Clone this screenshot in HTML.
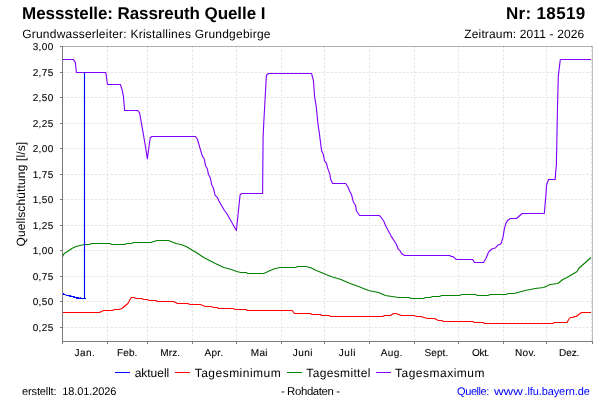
<!DOCTYPE html>
<html lang="de"><head><meta charset="utf-8"><title>Messstelle: Rassreuth Quelle I</title>
<style>html,body{margin:0;padding:0;background:#fff}body{width:600px;height:400px;overflow:hidden}svg{display:block;will-change:transform}text{font-family:"Liberation Sans",sans-serif;fill:#000;text-rendering:geometricPrecision}</style></head><body>
<svg width="600" height="400" viewBox="0 0 600 400">
<rect width="600" height="400" fill="#fff"/>
<g stroke="#bfbfbf" stroke-width="1" shape-rendering="crispEdges" fill="none">
<line x1="62" y1="46.5" x2="593" y2="46.5"/><line x1="592.5" y1="46" x2="592.5" y2="342"/>
</g>
<g stroke="#c0c0c0" stroke-width="0.5" stroke-dasharray="2,2" fill="none">
<line x1="62.6" y1="46.5" x2="592.5" y2="46.5"/>
<line x1="62.6" y1="72.5" x2="592.5" y2="72.5"/>
<line x1="62.6" y1="97.5" x2="592.5" y2="97.5"/>
<line x1="62.6" y1="123.5" x2="592.5" y2="123.5"/>
<line x1="62.6" y1="148.5" x2="592.5" y2="148.5"/>
<line x1="62.6" y1="174.5" x2="592.5" y2="174.5"/>
<line x1="62.6" y1="199.5" x2="592.5" y2="199.5"/>
<line x1="62.6" y1="225.5" x2="592.5" y2="225.5"/>
<line x1="62.6" y1="250.5" x2="592.5" y2="250.5"/>
<line x1="62.6" y1="276.5" x2="592.5" y2="276.5"/>
<line x1="62.6" y1="301.5" x2="592.5" y2="301.5"/>
<line x1="62.6" y1="327.5" x2="592.5" y2="327.5"/>
<line x1="107.5" y1="46.4" x2="107.5" y2="341.5"/>
<line x1="147.5" y1="46.4" x2="147.5" y2="341.5"/>
<line x1="192.5" y1="46.4" x2="192.5" y2="341.5"/>
<line x1="236.5" y1="46.4" x2="236.5" y2="341.5"/>
<line x1="281.5" y1="46.4" x2="281.5" y2="341.5"/>
<line x1="324.5" y1="46.4" x2="324.5" y2="341.5"/>
<line x1="369.5" y1="46.4" x2="369.5" y2="341.5"/>
<line x1="414.5" y1="46.4" x2="414.5" y2="341.5"/>
<line x1="458.5" y1="46.4" x2="458.5" y2="341.5"/>
<line x1="503.5" y1="46.4" x2="503.5" y2="341.5"/>
<line x1="546.5" y1="46.4" x2="546.5" y2="341.5"/>
<line x1="591.5" y1="46.4" x2="591.5" y2="341.5"/>
</g>
<line x1="62.6" y1="46.5" x2="592.5" y2="46.5" stroke="#868686" stroke-width="0.5" stroke-dasharray="2,2" fill="none"/>
<g fill="none" stroke-width="1.12" stroke-linejoin="round" stroke-linecap="butt">
<polyline stroke="#ff0000" points="62.5,312.5 99.4,312.5 103.6,310.5 112.0,310.5 114.5,309.5 118.7,309.5 122.0,308.5 125.4,305.5 127.9,303.5 129.5,300.5 131.2,297.5 133.7,297.5 136.2,298.5 141.3,298.5 143.8,299.5 147.1,299.5 149.6,300.5 155.9,300.5 157.5,301.5 173.5,301.5 177.6,303.5 187.7,303.5 190.2,304.5 200.3,304.5 205.3,306.5 211.1,306.5 213.7,307.5 217.0,307.5 218.7,308.5 232.9,308.5 235.4,309.5 245.9,309.5 247.5,310.5 292.3,310.5 294.4,313.5 310.4,313.5 312.0,314.5 320.1,314.5 321.7,315.5 328.8,315.5 330.8,316.5 382.8,316.5 384.5,315.5 390.4,315.5 393.7,313.5 396.2,313.5 401.2,315.5 413.8,315.5 416.7,316.5 420.9,316.5 427.6,318.5 434.3,318.5 438.5,320.5 441.8,320.5 443.5,321.5 472.8,321.5 474.5,322.5 482.9,322.5 484.5,323.5 552.8,323.5 554.4,322.5 567.0,322.5 568.7,319.5 570.4,317.5 572.9,317.5 574.5,316.5 576.5,316.5 578.7,314.5 581.6,312.5 591.0,312.5"/>
<polyline stroke="#008000" points="62.6,256.5 64.2,253.5 67.6,251.5 71.8,248.5 75.9,246.5 80.1,245.5 84.3,244.5 89.3,244.5 91.9,243.5 109.4,243.5 112.0,244.5 124.5,244.5 127.0,243.5 131.2,243.5 133.7,242.5 150.9,242.5 153.4,241.5 157.6,240.5 168.5,240.5 171.0,241.5 176.0,243.5 181.0,244.5 186.1,246.5 192.8,250.5 197.8,253.5 203.7,257.5 209.5,260.5 215.4,263.5 223.8,267.5 231.3,269.5 236.7,271.5 240.9,272.5 245.9,272.5 247.9,273.5 263.5,273.5 266.0,272.5 270.2,270.5 275.2,268.5 280.3,267.5 295.3,267.5 297.8,266.5 305.4,266.5 310.4,267.5 316.3,270.5 321.3,272.5 330.9,276.5 340.9,279.5 350.2,283.5 358.5,286.5 368.6,290.5 378.6,292.5 385.3,295.5 392.0,296.5 398.7,297.5 408.8,297.5 411.3,298.5 423.4,298.5 425.9,297.5 430.1,297.5 432.6,296.5 439.3,296.5 441.8,295.5 459.4,295.5 461.9,294.5 475.3,294.5 477.8,295.5 487.9,295.5 490.4,294.5 505.9,294.5 508.4,293.5 514.2,293.5 525.1,290.5 535.2,288.5 543.6,287.5 550.3,284.5 557.8,283.5 562.8,279.5 567.0,277.5 577.1,271.5 578.7,268.5 591.0,257.5"/>
<polyline stroke="#8000ff" points="62.5,59.5 73.4,59.5 75.3,62.4 76.4,72.5 105.8,72.5 107.5,84.5 120.4,84.5 122.3,90.4 123.5,97.1 124.6,110.5 137.8,110.5 139.6,112.8 144.6,141.3 147.4,158.8 150.2,137.7 151.9,136.5 195.6,136.5 197.5,139.5 202.4,156.3 204.4,159.3 205.5,165.6 207.4,169.0 208.5,174.6 210.4,178.0 211.5,184.1 212.0,185.3 213.5,188.3 215.0,195.1 217.3,197.3 218.8,200.7 224.0,209.7 226.9,213.8 236.4,230.5 240.1,194.7 241.8,193.5 262.6,193.5 263.1,137.0 263.8,122.2 266.4,75.2 268.5,73.5 311.6,73.5 313.4,80.6 314.7,97.5 316.2,106.2 318.1,125.1 319.2,132.1 321.5,150.1 321.7,151.1 323.4,154.5 324.5,160.8 326.5,163.1 327.5,167.6 329.8,174.1 330.7,179.5 332.6,183.5 345.7,183.5 348.1,187.2 349.6,191.1 351.6,194.8 353.4,202.2 355.5,205.2 356.4,210.8 359.6,215.5 379.1,215.5 380.3,216.2 384.1,221.8 385.5,225.6 391.1,236.1 396.4,244.2 398.1,249.2 400.4,251.2 401.5,253.5 404.5,255.5 449.9,255.5 451.0,256.4 452.9,256.5 454.4,257.8 456.3,259.5 472.7,259.5 474.4,262.5 483.6,262.5 486.2,258.0 488.1,253.2 488.6,252.1 491.2,249.5 493.1,248.5 495.4,248.0 497.6,245.3 500.2,244.3 501.4,242.7 502.9,237.8 504.4,228.6 506.0,223.1 507.5,220.5 510.5,218.5 516.5,218.5 522.1,213.5 544.3,213.5 545.9,195.1 546.6,185.0 548.5,179.5 555.2,179.5 555.6,172.6 556.4,165.1 557.5,107.1 558.3,76.1 560.3,59.5 591.0,59.5"/>
<path stroke="#0000ff" stroke-width="1" stroke-linejoin="miter" d="M63,293.5 L64.2,293.5 M63,294.5 L65.7,294.5 L66,295.5 L70.9,295.5 L71.1,296.5 L74.8,296.5 L75,297.5 L79,297.5 L79.2,298.5 L86,298.5 M69.1,296.5 L71.1,296.5 M73,297.5 L75,297.5 M76,298.5 L79.2,298.5 M80,298.5 L80.5,297.3 L81,298.5"/>
<path stroke="#0000ff" stroke-width="1.15" d="M84.5,298.5 L84.5,72.5"/>
</g>
<g stroke="#7c7c7c" stroke-width="1" shape-rendering="crispEdges" fill="none">
<line x1="62.5" y1="46" x2="62.5" y2="342"/><line x1="62" y1="341.5" x2="593" y2="341.5"/>
<line x1="60" y1="46.5" x2="62" y2="46.5"/>
<line x1="60" y1="72.5" x2="62" y2="72.5"/>
<line x1="60" y1="97.5" x2="62" y2="97.5"/>
<line x1="60" y1="123.5" x2="62" y2="123.5"/>
<line x1="60" y1="148.5" x2="62" y2="148.5"/>
<line x1="60" y1="174.5" x2="62" y2="174.5"/>
<line x1="60" y1="199.5" x2="62" y2="199.5"/>
<line x1="60" y1="225.5" x2="62" y2="225.5"/>
<line x1="60" y1="250.5" x2="62" y2="250.5"/>
<line x1="60" y1="276.5" x2="62" y2="276.5"/>
<line x1="60" y1="301.5" x2="62" y2="301.5"/>
<line x1="60" y1="327.5" x2="62" y2="327.5"/>
<line x1="62.5" y1="342" x2="62.5" y2="344"/>
<line x1="107.5" y1="342" x2="107.5" y2="344"/>
<line x1="147.5" y1="342" x2="147.5" y2="344"/>
<line x1="192.5" y1="342" x2="192.5" y2="344"/>
<line x1="236.5" y1="342" x2="236.5" y2="344"/>
<line x1="281.5" y1="342" x2="281.5" y2="344"/>
<line x1="324.5" y1="342" x2="324.5" y2="344"/>
<line x1="369.5" y1="342" x2="369.5" y2="344"/>
<line x1="414.5" y1="342" x2="414.5" y2="344"/>
<line x1="458.5" y1="342" x2="458.5" y2="344"/>
<line x1="503.5" y1="342" x2="503.5" y2="344"/>
<line x1="546.5" y1="342" x2="546.5" y2="344"/>
<line x1="592.5" y1="342" x2="592.5" y2="344"/>
</g>
<g font-size="10" text-anchor="end" stroke="#000" stroke-width="0.1">
<text x="53.2" y="50" textLength="20.5" lengthAdjust="spacing">3,00</text>
<text x="53.2" y="76" textLength="20.5" lengthAdjust="spacing">2,75</text>
<text x="53.2" y="101" textLength="20.5" lengthAdjust="spacing">2,50</text>
<text x="53.2" y="127" textLength="20.5" lengthAdjust="spacing">2,25</text>
<text x="53.2" y="152" textLength="20.5" lengthAdjust="spacing">2,00</text>
<text x="53.2" y="178" textLength="20.5" lengthAdjust="spacing">1,75</text>
<text x="53.2" y="203" textLength="20.5" lengthAdjust="spacing">1,50</text>
<text x="53.2" y="229" textLength="20.5" lengthAdjust="spacing">1,25</text>
<text x="53.2" y="254" textLength="20.5" lengthAdjust="spacing">1,00</text>
<text x="53.2" y="280" textLength="20.5" lengthAdjust="spacing">0,75</text>
<text x="53.2" y="305" textLength="20.5" lengthAdjust="spacing">0,50</text>
<text x="53.2" y="331" textLength="20.5" lengthAdjust="spacing">0,25</text>
</g>
<g font-size="10" stroke="#000" stroke-width="0.1">
<text x="74.6" y="356" textLength="20.3" lengthAdjust="spacing">Jan.</text>
<text x="117.1" y="356" textLength="20.3" lengthAdjust="spacing">Feb.</text>
<text x="160.35" y="356" textLength="19.6" lengthAdjust="spacing">Mrz.</text>
<text x="204.6" y="356" textLength="18.6" lengthAdjust="spacing">Apr.</text>
<text x="250.85" y="356" textLength="16.6" lengthAdjust="spacing">Mai</text>
<text x="292.85" y="356" textLength="19.6" lengthAdjust="spacing">Juni</text>
<text x="338.85" y="356" textLength="16.6" lengthAdjust="spacing">Juli</text>
<text x="380.85" y="356" textLength="21.6" lengthAdjust="spacing">Aug.</text>
<text x="424.6" y="356" textLength="23.6" lengthAdjust="spacing">Sept.</text>
<text x="472.1" y="356" textLength="17.3" lengthAdjust="spacing">Okt.</text>
<text x="515.1" y="356" textLength="20.6" lengthAdjust="spacing">Nov.</text>
<text x="559.1" y="356" textLength="20.3" lengthAdjust="spacing">Dez.</text>
</g>
<text font-size="12" transform="translate(24.5,246.5) rotate(-90)" textLength="104.7" lengthAdjust="spacing">Quellschüttung [l/s]</text>
<text x="22.1" y="19.4" font-size="17" font-weight="bold" textLength="243.3" lengthAdjust="spacing">Messstelle: Rassreuth Quelle I</text>
<text x="505.9" y="19.4" font-size="17" font-weight="bold" textLength="79.3" lengthAdjust="spacing">Nr: 18519</text>
<text x="22.2" y="37.8" font-size="12" textLength="248.3" lengthAdjust="spacing">Grundwasserleiter: Kristallines Grundgebirge</text>
<text x="464.3" y="37.7" font-size="12" textLength="120" lengthAdjust="spacing">Zeitraum: 2011 - 2026</text>
<g stroke-width="1" fill="none" shape-rendering="crispEdges">
<line x1="115" y1="372.5" x2="130" y2="372.5" stroke="#0000ff"/>
<line x1="175" y1="372.5" x2="190" y2="372.5" stroke="#ff0000"/>
<line x1="287" y1="372.5" x2="302" y2="372.5" stroke="#008000"/>
<line x1="376" y1="372.5" x2="391" y2="372.5" stroke="#8000ff"/>
</g>
<g font-size="12">
<text x="134.7" y="376.7" textLength="34.5" lengthAdjust="spacing">aktuell</text>
<text x="194.7" y="376.7" textLength="86" lengthAdjust="spacing">Tagesminimum</text>
<text x="306.3" y="376.7" textLength="64.2" lengthAdjust="spacing">Tagesmittel</text>
<text x="395" y="376.7" textLength="89.5" lengthAdjust="spacing">Tagesmaximum</text>
</g>
<text x="22" y="394.9" font-size="11" textLength="94.3" lengthAdjust="spacing" xml:space="preserve">erstellt:  18.01.2026</text>
<text x="280.9" y="395" font-size="11.4" textLength="59.2" lengthAdjust="spacing">- Rohdaten -</text>
<g font-size="11" style="fill:#0000ff">
<text x="457.1" y="394.9" textLength="32.2" lengthAdjust="spacing" style="fill:#0000ff">Quelle:</text>
<text x="493.9" y="394.9" textLength="28.9" lengthAdjust="spacingAndGlyphs" style="fill:#0000ff">www</text>
<text x="524.5" y="394.9" textLength="65.3" lengthAdjust="spacing" style="fill:#0000ff">.lfu.bayern.de</text>
</g>
</svg></body></html>
